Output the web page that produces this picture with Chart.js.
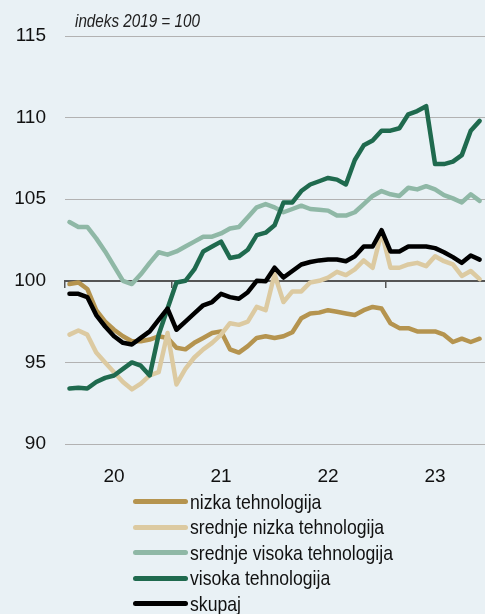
<!DOCTYPE html>
<html lang="sl">
<head>
  <meta charset="UTF-8" />
  <title>Indeks po tehnološki zahtevnosti</title>
  <script src="https://cdn.jsdelivr.net/npm/chart.js"></script>
  <style>
    html, body {
      margin: 0;
      padding: 0;
      background-color: #e9f1f5;
      overflow: hidden;
    }
    .wrap {
      position: relative;
      width: 485px;
      height: 614px;
      font-family: 'Liberation Sans', sans-serif;
    }
    canvas { display: block; }
    #legend {
      position: absolute;
      left: 133px;
      top: 489px;
      color: #111;
      font-size: 21px;
    }
    .row {
      display: flex;
      align-items: center;
      height: 25.5px;
      white-space: nowrap;
    }
    .swatch {
      width: 55px;
      height: 5px;
      border-radius: 3px;
      margin-right: 2px;
      flex: none;
    }
    .label {
      display: inline-block;
      transform: scaleX(0.84);
      transform-origin: left center;
    }
  </style>
</head>
<body>
  <div class="wrap">
    <canvas id="chart" width="485" height="614"></canvas>
    <div id="legend"></div>
  </div>

  <script>
    // mesečni podatki, jan 2020 - nov 2023
    const years = ['20', '21', '22', '23'];
    const seriesNames = ['nizka tehnologija', 'srednje nizka tehnologija', 'srednje visoka tehnologija', 'visoka tehnologija', 'skupaj'];
    const seriesColors = ['#b5944f', '#dccaa1', '#8fb8a6', '#1f6a4e', '#000000'];

    const nizka = [99.8, 99.9, 99.5, 98.2, 97.5, 97.0, 96.6, 96.3, 96.3, 96.4, 96.6, 96.5,
      95.9, 95.8, 96.2, 96.5, 96.8, 96.9, 95.8, 95.6, 96.0, 96.5, 96.6, 96.5,
      96.6, 96.85, 97.7, 98.0, 98.05, 98.2, 98.1, 98.0, 97.9, 98.2, 98.4, 98.3,
      97.4, 97.1, 97.1, 96.9, 96.9, 96.9, 96.7, 96.25, 96.45, 96.25, 96.45];
    const srednjeNizka = [96.7, 96.95, 96.7, 95.6, 95.0, 94.4, 93.8, 93.35, 93.7, 94.2, 94.4, 96.8,
      93.65, 94.6, 95.3, 95.8, 96.2, 96.7, 97.4, 97.3, 97.5, 98.4, 98.2, 100.4,
      98.7, 99.35, 99.35, 99.9, 100.0, 100.2, 100.55, 100.35, 100.7, 101.25, 100.8, 103.0,
      100.8, 100.8, 101.0, 101.1, 100.9, 101.5, 101.2, 101.0, 100.3, 100.6, 100.1];
    const srednjeVisoka = [103.6, 103.3, 103.3, 102.6, 101.8, 100.9, 100.0, 99.8, 100.4, 101.1, 101.75, 101.6,
      101.8, 102.1, 102.4, 102.7, 102.7, 102.9, 103.2, 103.3, 103.9, 104.5, 104.7, 104.5,
      104.2, 104.4, 104.6, 104.4, 104.35, 104.3, 104.0, 104.0, 104.2, 104.7, 105.2, 105.5,
      105.3, 105.2, 105.7, 105.6, 105.8, 105.6, 105.25, 105.05, 104.8, 105.3, 104.9];
    const visoka = [93.4, 93.45, 93.4, 93.8, 94.05, 94.2, 94.6, 95.0, 94.8, 94.2, 96.7, 98.3,
      99.9, 100.0, 100.7, 101.8, 102.1, 102.4, 101.4, 101.5, 101.9, 102.8, 102.95, 103.4,
      104.8, 104.8, 105.5, 105.9, 106.1, 106.3, 106.2, 105.9, 107.4, 108.3, 108.6, 109.2,
      109.2, 109.35, 110.2, 110.4, 110.7, 107.15, 107.15, 107.3, 107.7, 109.2, 109.8];
    const skupaj = [99.2, 99.2, 99.0, 97.9, 97.2, 96.6, 96.2, 96.1, 96.5, 96.9, 97.6, 98.3,
      97.0, 97.5, 98.0, 98.5, 98.7, 99.2, 99.0, 98.9, 99.3, 100.0, 99.97, 100.8,
      100.2, 100.6, 101.0, 101.15, 101.25, 101.3, 101.3, 101.2, 101.5, 102.1, 102.1, 103.1,
      101.8, 101.8, 102.1, 102.1, 102.1, 102.0, 101.75, 101.45, 101.1, 101.55, 101.3];

    const allSeries = [nizka, srednjeNizka, srednjeVisoka, visoka, skupaj];

    // meseci na osi x: sredina meseca
    const toPoints = arr => arr.map((v, i) => ({ x: i + 0.5, y: v }));

    const datasets = allSeries.map((arr, k) => ({
      label: seriesNames[k],
      data: toPoints(arr),
      borderColor: seriesColors[k],
      backgroundColor: seriesColors[k],
      borderWidth: 4.5,
      borderJoinStyle: 'round',
      borderCapStyle: 'round',
      pointRadius: 0,
      tension: 0,
      order: allSeries.length - k
    }));

    const FONT = "'Liberation Sans', sans-serif";

    const noteText = {
      id: 'noteText',
      afterDraw(chart) {
        const { ctx, chartArea } = chart;
        ctx.save();
        ctx.translate(chartArea.left + 10, chartArea.top - 9);
        ctx.scale(0.87, 1);
        ctx.font = 'italic 17.5px ' + FONT;
        ctx.fillStyle = '#222';
        ctx.textBaseline = 'alphabetic';
        ctx.fillText('indeks 2019 = 100', 0, 0);
        ctx.restore();
      }
    };

    new Chart(document.getElementById('chart'), {
      type: 'line',
      data: { datasets },
      options: {
        responsive: false,
        animation: false,
        layout: { padding: { top: 36, right: 0, bottom: 120, left: 0 } },
        plugins: {
          legend: { display: false },
          tooltip: { enabled: false }
        },
        scales: {
          x: {
            type: 'linear',
            min: 0,
            max: 47.1,
            afterBuildTicks: s => { s.ticks = years.map((y, i) => ({ value: i * 12 + 5.5 })); },
            afterFit: s => { s.height = 50; },
            ticks: {
              callback: v => years[Math.round((v - 5.5) / 12)],
              font: { family: FONT, size: 19 },
              color: '#111',
              padding: 13,
              maxRotation: 0
            },
            grid: { display: false },
            border: { display: false }
          },
          xLine: {
            type: 'linear',
            axis: 'x',
            position: { y: 100 },
            min: 0,
            max: 47.1,
            afterBuildTicks: s => { s.ticks = years.map((y, i) => ({ value: i * 12 })); },
            ticks: { display: false },
            grid: { drawOnChartArea: false, tickLength: 6, color: '#555', lineWidth: 1.5 },
            border: { color: '#555', width: 2 }
          },
          y: {
            min: 90,
            max: 115,
            afterFit: s => { s.width = 65; },
            ticks: {
              stepSize: 5,
              font: { family: FONT, size: 19 },
              color: '#111',
              padding: 19
            },
            grid: {
              drawTicks: false,
              color: c => c.tick.value === 100 ? '#555' : '#b2b2b2',
              lineWidth: c => c.tick.value === 100 ? 2 : 1
            },
            border: { display: false }
          }
        }
      },
      plugins: [noteText]
    });

    // legenda
    const legend = document.getElementById('legend');
    seriesNames.forEach((name, k) => {
      const row = document.createElement('div');
      row.className = 'row';
      const sw = document.createElement('span');
      sw.className = 'swatch';
      sw.style.background = seriesColors[k];
      const txt = document.createElement('span');
      txt.className = 'label';
      txt.textContent = name;
      row.appendChild(sw);
      row.appendChild(txt);
      legend.appendChild(row);
    });
  </script>
</body>
</html>
